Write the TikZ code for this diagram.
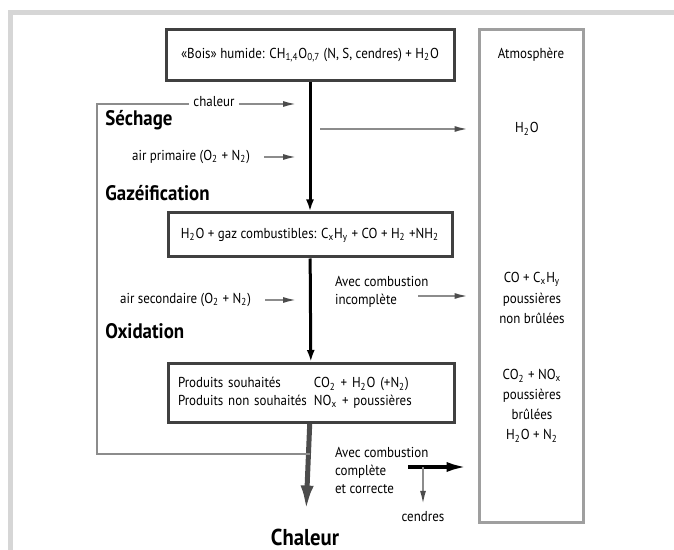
\documentclass[tikz,border=0pt]{standalone}
\usepackage{fontspec}
\setmainfont{PT Sans}[FakeStretch=0.9]
\usetikzlibrary{arrows.meta}
\definecolor{framegray}{gray}{0.84}
\definecolor{boxgray}{gray}{0.25}
\definecolor{loopgray}{gray}{0.55}
\definecolor{tipgray}{gray}{0.3}
\newcommand{\ix}[1]{\textsubscript{#1}}
\tikzset{
  box/.style={draw=boxgray, line width=1.5pt, inner xsep=5pt, inner ysep=0pt},
  small/.style={font=\fontsize{7.2}{9}\selectfont},
  stage/.style={font=\fontsize{10.5}{12}\selectfont\bfseries, anchor=west, inner sep=0pt},
  flow/.style={line width=1.5pt, -{Latex[length=6pt,width=4pt]}},
  feed/.style={draw=loopgray, line width=1pt, -{Latex[length=7pt,width=3pt,color=tipgray]}},
  loopline/.style={draw=loopgray, line width=1pt},
}
\begin{document}
\begin{tikzpicture}[x=0.5pt,y=-0.5pt]
  \useasboundingbox (0,0) rectangle (674,550);
  % frame
  \draw[framegray, line width=2.5pt] (10,550) -- (10,12.5) -- (674,12.5);

  % boxes
  \node[box, small, minimum width=144pt, minimum height=25.5pt] (bois) at (310,55)
    {«Bois» humide: CH\ix{1,4}O\ix{0,7} (N, S, cendres) + H\ix{2}O};
  \node[box, small, minimum width=142pt, minimum height=22pt] (gaz) at (310,235)
    {H\ix{2}O + gaz combustibles: C\ix{x}H\ix{y} + CO + H\ix{2} +NH\ix{2}};
  \node[box, small, minimum width=143pt, minimum height=29.5pt, text width=133pt, align=left] (produits) at (311,393)
    {\makebox[68pt][l]{Produits souhaités}CO\ix{2} + H\ix{2}O (+N\ix{2})\\
     \makebox[68pt][l]{Produits non souhaités}NO\ix{x} + poussières};
  \node[draw=gray!75, line width=1.5pt, minimum width=52pt, minimum height=246pt] (atmos) at (531,276) {};

  % atmosphere texts
  \node[small] (atmlbl) at (531,55) {Atmosphère};
  \node[small] (h2o) at (527,129) {H\ix{2}O};
  \node[small, align=center] (imbrule) at (532,298)
    {CO + C\ix{x}H\ix{y}\\[1.2pt] poussières\\[1.2pt] non brûlées};
  \node[small, align=center] (brule) at (532,406)
    {CO\ix{2} + NO\ix{x}\\[1pt] poussières\\[1pt] brûlées\\[1pt] H\ix{2}O + N\ix{2}};

  % stages
  \node[stage] (sechage) at (105,120) {Séchage};
  \node[stage] (gazeif) at (105,193) {Gazéification};
  \node[stage] (oxid) at (105,331) {Oxidation};
  \node[font=\fontsize{11.5}{13}\selectfont\bfseries] (chaleur) at (305,537) {Chaleur};

  % side labels
  \node[small, fill=white, inner xsep=2pt] (chaleurlbl) at (214,102) {chaleur};
  \node[small, anchor=east] (airprim) at (257,157) {air primaire (O\ix{2} + N\ix{2})};
  \node[small, anchor=east] (airsec) at (258,300) {air secondaire (O\ix{2} + N\ix{2})};
  \node[small, anchor=west, align=left] (avecinc) at (328,292) {Avec combustion\\incomplète};
  \node[small, anchor=west, align=left] (aveccomp) at (328,470) {Avec combustion\\complète\\et correcte};
  \node[small] (cendres) at (423,517) {cendres};

  \coordinate (loopout) at (310,454);
  \coordinate (heatin) at (297,104);
  \coordinate (dryout) at (320,129);
  \coordinate (incout) at (418,296);
  \coordinate (compout) at (408,467);
  \coordinate (ashout) at (423,467);

  % main flow
  \draw[flow] (bois) -- (gaz);
  \draw[flow] (gaz) -- (produits);
  \draw[gray!60!black, line width=2.5pt, -{Latex[length=13pt,width=6.5pt]}, shorten >=5pt] (produits) -- (chaleur);

  % heat loop
  \draw[loopline] (loopout) -- (97,454) -- (97,104) -- (chaleurlbl.west |- 0,104);
  \draw[feed] (chaleurlbl.east |- heatin) -- (heatin);
  \draw[feed] (airprim.east) ++(7,0) -- (airprim.east -| heatin);
  \draw[feed] (airsec.east) ++(7,0) -- (airsec.east -| heatin);

  % to atmosphere
  \draw[feed, shorten >=4.5pt] (dryout) -- (dryout -| atmos.west);
  \draw[feed, shorten >=4.5pt] (incout) -- (incout -| atmos.west);
  \draw[line width=2pt, -{Latex[length=11pt,width=5pt]}, shorten >=4.5pt] (compout) -- (compout -| atmos.west);
  \draw[feed] (ashout) -- (cendres.north);
\end{tikzpicture}
\end{document}
